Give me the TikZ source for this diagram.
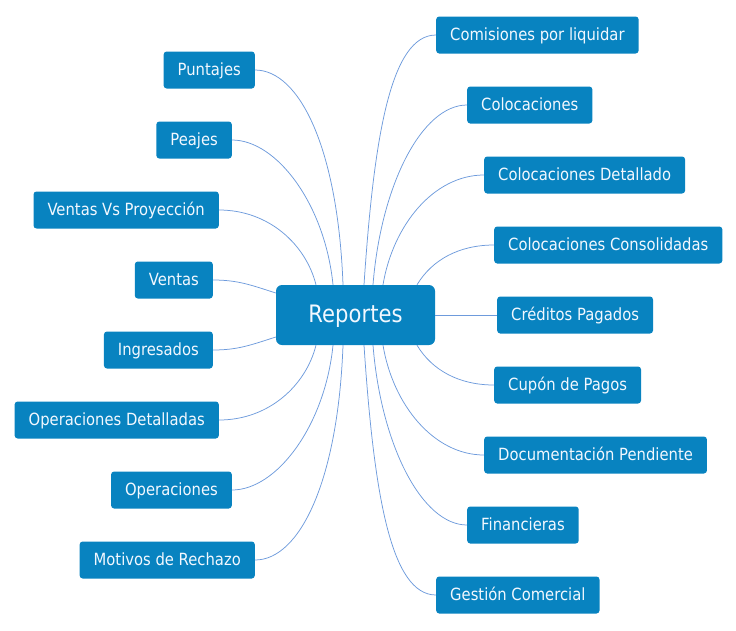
\documentclass[tikz,border=0pt]{standalone}
\usepackage{fontspec}
\setmainfont[FakeStretch=0.88]{DejaVu Sans}
\usepackage{tikz}
\usetikzlibrary{positioning,calc}
\definecolor{boxblue}{HTML}{0883C0}
\definecolor{linkblue}{HTML}{6E9BDC}
\definecolor{boxtext}{HTML}{F2F8FF}

\begin{document}
\begin{tikzpicture}[
  x=1pt,y=-1pt,
  box/.style={fill=boxblue,text=boxtext,font=\fontsize{16.8}{18}\selectfont,rounded corners=3pt,minimum height=37pt,inner xsep=14pt,text height=15pt,text depth=3.5pt},
  hub/.style={fill=boxblue,text=boxtext,font=\fontsize{24}{26}\selectfont,rounded corners=6pt,minimum width=159pt,minimum height=60pt,text height=17.5pt,text depth=2pt},
  link/.style={draw=linkblue,line width=0.75pt}
]
\useasboundingbox (0,0) rectangle (736,630);
\node[hub] (rep) at (355.5,315) {Reportes};
% left side
\node[box,anchor=east] (pun) at (255,70) {Puntajes};
\node[box,anchor=east] (pea) at (232,140) {Peajes};
\node[box,anchor=east] (vvp) at (219,210) {Ventas Vs Proyección};
\node[box,anchor=east] (ven) at (213,280) {Ventas};
\node[box,anchor=east] (ing) at (213,350) {Ingresados};
\node[box,anchor=east] (opd) at (219,420) {Operaciones Detalladas};
\node[box,anchor=east] (ope) at (232,490) {Operaciones};
\node[box,anchor=east] (mot) at (255,560) {Motivos de Rechazo};
% right side
\node[box,anchor=west] (com) at (436,35) {Comisiones por liquidar};
\node[box,anchor=west] (col) at (467,105) {Colocaciones};
\node[box,anchor=west] (cde) at (484,175) {Colocaciones Detallado};
\node[box,anchor=west] (cco) at (494,245) {Colocaciones Consolidadas};
\node[box,anchor=west] (cre) at (497,315) {Créditos Pagados};
\node[box,anchor=west] (cup) at (494,385) {Cupón de Pagos};
\node[box,anchor=west] (doc) at (484,455) {Documentación Pendiente};
\node[box,anchor=west] (fin) at (467,525) {Financieras};
\node[box,anchor=west] (ges) at (436,595) {Gestión Comercial};
% links left
\draw[link] ([xshift=-12.5pt]rep.north) .. controls +(-5,-135) and +(45,0) .. (pun.east);
\draw[link] ([xshift=-22.5pt]rep.north) .. controls +(-8,-80) and +(45,0) .. (pea.east);
\draw[link] ([xshift=-39.5pt]rep.north) .. controls +(-10,-40) and +(50,0) .. (vvp.east);
\draw[link] ([yshift=22pt]rep.west) .. controls +(-25,-8) and +(25,0) .. (ven.east);
\draw[link] ([yshift=-22pt]rep.west) .. controls +(-25,8) and +(25,0) .. (ing.east);
\draw[link] ([xshift=-39.5pt]rep.south) .. controls +(-10,40) and +(50,0) .. (opd.east);
\draw[link] ([xshift=-22.5pt]rep.south) .. controls +(-8,80) and +(45,0) .. (ope.east);
\draw[link] ([xshift=-12.5pt]rep.south) .. controls +(-5,135) and +(45,0) .. (mot.east);
% links right
\draw[link] ([xshift=8.5pt]rep.north) .. controls +(10,-150) and +(-45,0) .. (com.west);
\draw[link] ([xshift=17.5pt]rep.north) .. controls +(8,-100) and +(-45,0) .. (col.west);
\draw[link] ([xshift=27.5pt]rep.north) .. controls +(10,-60) and +(-50,0) .. (cde.west);
\draw[link] ([xshift=61.5pt]rep.north) .. controls +(15,-25) and +(-35,0) .. (cco.west);
\draw[link] (rep.east) -- (cre.west);
\draw[link] ([xshift=61.5pt]rep.south) .. controls +(15,25) and +(-35,0) .. (cup.west);
\draw[link] ([xshift=27.5pt]rep.south) .. controls +(10,60) and +(-50,0) .. (doc.west);
\draw[link] ([xshift=17.5pt]rep.south) .. controls +(8,100) and +(-45,0) .. (fin.west);
\draw[link] ([xshift=8.5pt]rep.south) .. controls +(10,150) and +(-45,0) .. (ges.west);
\end{tikzpicture}
\end{document}
